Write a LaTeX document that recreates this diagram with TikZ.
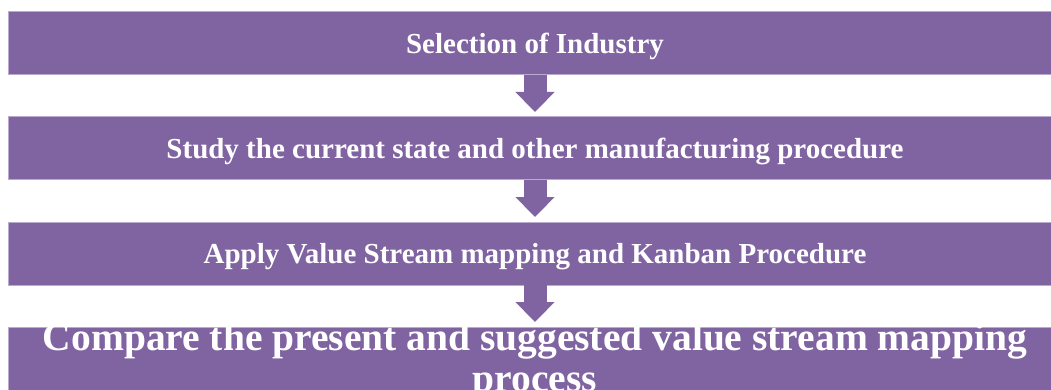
\documentclass[tikz,border=0pt]{standalone}
\usepackage{fontspec}
\setmainfont{Liberation Serif}
\usetikzlibrary{arrows.meta,positioning}
\definecolor{stepviolet}{RGB}{128,100,162}
\definecolor{stepedge}{RGB}{186,170,207}

\begin{document}
\begin{tikzpicture}[
  x=1pt, y=-1pt,
  stage/.style={
    rectangle, fill=stepviolet, draw=stepedge, line width=1pt,
    minimum width=1054pt, minimum height=63pt, inner sep=0pt, outer sep=0pt,
    text=white, font=\fontsize{29}{34}\selectfont\bfseries,
    text height=21pt, text depth=1pt
  },
  bigtext/.style={
    text=white, font=\fontsize{39.5}{41}\selectfont\bfseries,
    align=center, inner sep=0pt, anchor=north
  },
  flow/.style={stepviolet, line width=23pt,
    -{Triangle[width=38pt,length=20pt]}}
]
  \useasboundingbox (0,0) rectangle (1051,390);
  \clip (0,0) rectangle (1051,390);

  \node[stage] (ind) at (535,43.5) {Selection of Industry};
  \node[stage, below=42pt of ind] (cur) {Study the current state and other manufacturing procedure};
  \node[stage, below=42pt of cur] (vsm) {Apply Value Stream mapping and Kanban Procedure};
  \node[stage, below=42pt of vsm] (cmp) {};
  \node[bigtext] (cmptext) at ([yshift=4.5pt]cmp.north)
    {Compare the present and suggested value stream mapping\\process};

  \foreach \a/\b in {ind/cur,cur/vsm,vsm/cmp}{
    \draw[flow] (\a.south) -- ([yshift=5pt]\b.north);
  }
\end{tikzpicture}
\end{document}
